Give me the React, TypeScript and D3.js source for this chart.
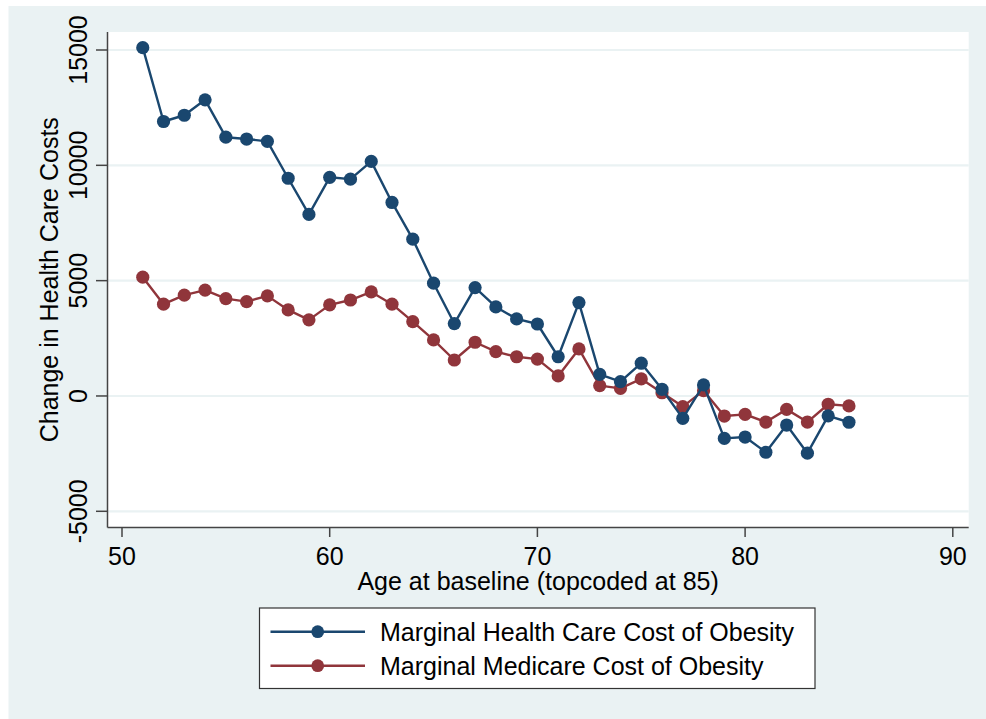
import React from "react";
import * as d3 from "d3";

const ages = [51,52,53,54,55,56,57,58,59,60,61,62,63,64,65,66,67,68,69,70,71,72,73,74,75,76,77,78,79,80,81,82,83,84,85];
const healthCare = [15100,11900,12170,12840,11220,11140,11040,9440,7870,9480,9400,10170,8390,6800,4890,3140,4700,3860,3340,3120,1700,4050,940,620,1420,290,-970,480,-1840,-1780,-2440,-1260,-2480,-860,-1140];
const medicare = [5150,3980,4370,4590,4220,4090,4340,3730,3300,3950,4160,4510,3980,3220,2430,1560,2330,1920,1700,1600,870,2040,450,330,740,140,-460,230,-870,-800,-1130,-580,-1130,-360,-430];
const xTicks = [50,60,70,80,90];
const yTicks = [-5000,0,5000,10000,15000];
const seriesNames = ["Marginal Health Care Cost of Obesity", "Marginal Medicare Cost of Obesity"];
const colors = ["#1a476f", "#90353b"];

const BG = "#eaf2f3";
const FONT = "'Liberation Sans', Arial, sans-serif";

export default function App() {
  const x = d3.scaleLinear().domain([50, 90]).range([122, 952.8]);
  const y = d3.scaleLinear().domain([-5000, 15000]).range([511.3, 50]);
  const plot = { left: 107.5, right: 968.7, top: 32, bottom: 527.5 };
  const series = [healthCare, medicare];
  const line = d3.line<[number, number]>().x(d => x(d[0])).y(d => y(d[1]));

  return (
    <svg width={986} height={719} style={{ position: "absolute", left: 0, top: 0 }} fontFamily={FONT}>
      <rect x={0} y={0} width={986} height={719} fill="#ffffff" />
      <rect x={8.5} y={6} width={977.5} height={713} fill={BG} />
      <rect x={plot.left} y={plot.top} width={plot.right - plot.left} height={plot.bottom - plot.top} fill="#ffffff" />
      {yTicks.map(t => (
        <line key={"g" + t} x1={plot.left} x2={plot.right} y1={y(t)} y2={y(t)} stroke={BG} strokeWidth={2.2} />
      ))}
      {series.map((vals, si) => {
        const pts: [number, number][] = ages.map((a, i) => [a, vals[i]]);
        return (
          <g key={"s" + si}>
            <path d={line(pts) || ""} fill="none" stroke={colors[si]} strokeWidth={2.4} strokeLinejoin="round" />
            {pts.map((p, i) => (
              <circle key={i} cx={x(p[0])} cy={y(p[1])} r={6.6} fill={colors[si]} />
            ))}
          </g>
        );
      }).reverse()}
      {/* axes */}
      <line x1={plot.left} x2={plot.left} y1={plot.top} y2={plot.bottom} stroke="#444" strokeWidth={1.5} />
      <line x1={plot.left} x2={plot.right} y1={plot.bottom} y2={plot.bottom} stroke="#444" strokeWidth={1.5} />
      {yTicks.map(t => (
        <g key={"yt" + t}>
          <line x1={96} x2={plot.left} y1={y(t)} y2={y(t)} stroke="#444" strokeWidth={1.5} />
          <text transform={`translate(87,${y(t)}) rotate(-90)`} textAnchor="middle" fontSize={25} fill="#000">{t}</text>
        </g>
      ))}
      {xTicks.map(t => (
        <g key={"xt" + t}>
          <line x1={x(t)} x2={x(t)} y1={plot.bottom} y2={537} stroke="#444" strokeWidth={1.5} />
          <text x={x(t)} y={565} textAnchor="middle" fontSize={25} fill="#000">{t}</text>
        </g>
      ))}
      <text transform={`translate(58,${(plot.top + plot.bottom) / 2}) rotate(-90)`} textAnchor="middle" fontSize={25} fill="#000">Change in Health Care Costs</text>
      <text x={(plot.left + plot.right) / 2} y={590} textAnchor="middle" fontSize={25} fill="#000">Age at baseline (topcoded at 85)</text>
      {/* legend */}
      <rect x={259.5} y={608} width={555.5} height={80.5} fill="#ffffff" stroke="#333" strokeWidth={1.2} />
      {seriesNames.map((n, i) => {
        const ly = 631.7 + i * 34;
        return (
          <g key={"l" + i}>
            <line x1={270.5} x2={365} y1={ly} y2={ly} stroke={colors[i]} strokeWidth={2.4} />
            <circle cx={317.7} cy={ly} r={6.4} fill={colors[i]} />
            <text x={380} y={ly + 8.8} fontSize={25} fill="#000">{n}</text>
          </g>
        );
      })}
    </svg>
  );
}
